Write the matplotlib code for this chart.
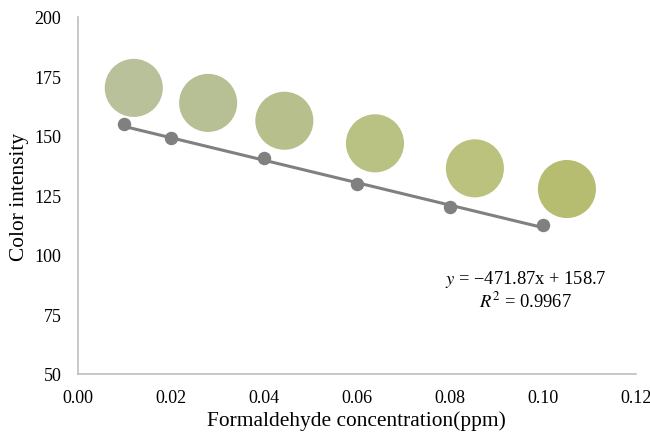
import matplotlib.pyplot as plt

plt.rcParams['font.family'] = ['Liberation Serif', 'DejaVu Serif']
plt.rcParams['mathtext.fontset'] = 'stix'

# measured points
conc = [0.01, 0.02, 0.04, 0.06, 0.08, 0.10]
intensity = [155.0, 149.2, 140.8, 129.8, 120.2, 112.6]

# colour sample discs (decoration)
swatch_x = [0.0120, 0.0280, 0.0444, 0.0639, 0.0854, 0.1052]
swatch_y = [170.2, 163.9, 156.4, 146.9, 136.4, 127.7]
swatch_colors = ['#b9c19b', '#b7c095', '#b7c08c', '#b9c183', '#bbc27e', '#b6bc70']

# linear fit
slope = -471.87
intercept = 158.7
r2 = 0.9967

fig = plt.figure(figsize=(6.5, 4.39), dpi=100)
ax = fig.add_axes([0.12, 0.146, 0.858, 0.813])

ax.scatter(swatch_x, swatch_y, s=1750, c=swatch_colors, edgecolors='none', zorder=1)

fit_x = [conc[0], conc[-1]]
fit_y = [slope * v + intercept for v in fit_x]
ax.plot(fit_x, fit_y, color='#808080', lw=2.2, zorder=2)
ax.scatter(conc, intensity, s=75, color='#808080', zorder=3)

ax.text(0.0963, 89.9, '$y$ = \u2212471.87x + 158.7', fontsize=13.3, ha='center', va='center')
ax.text(0.0963, 80.7, '$R^2$ = 0.9967', fontsize=13.3, ha='center', va='center')

ax.set_xlim(0, 0.12)
ax.set_ylim(50, 200)
ax.set_xticks([0.00, 0.02, 0.04, 0.06, 0.08, 0.10, 0.12])
ax.set_xticklabels(['0.00', '0.02', '0.04', '0.06', '0.08', '0.10', '0.12'])
ax.set_yticks([50, 75, 100, 125, 150, 175, 200])
ax.tick_params(length=0, labelsize=13, pad=12)
ax.tick_params(axis='x', pad=11)
for side in ['top', 'right']:
    ax.spines[side].set_visible(False)
for side in ['left', 'bottom']:
    ax.spines[side].set_color('#bfbfbf')
    ax.spines[side].set_linewidth(1.2)

ax.set_xlabel('Formaldehyde concentration(ppm)', fontsize=15.4, labelpad=3)
ax.set_ylabel('Color intensity', fontsize=15.4, labelpad=4)

fig.savefig('out.png')
